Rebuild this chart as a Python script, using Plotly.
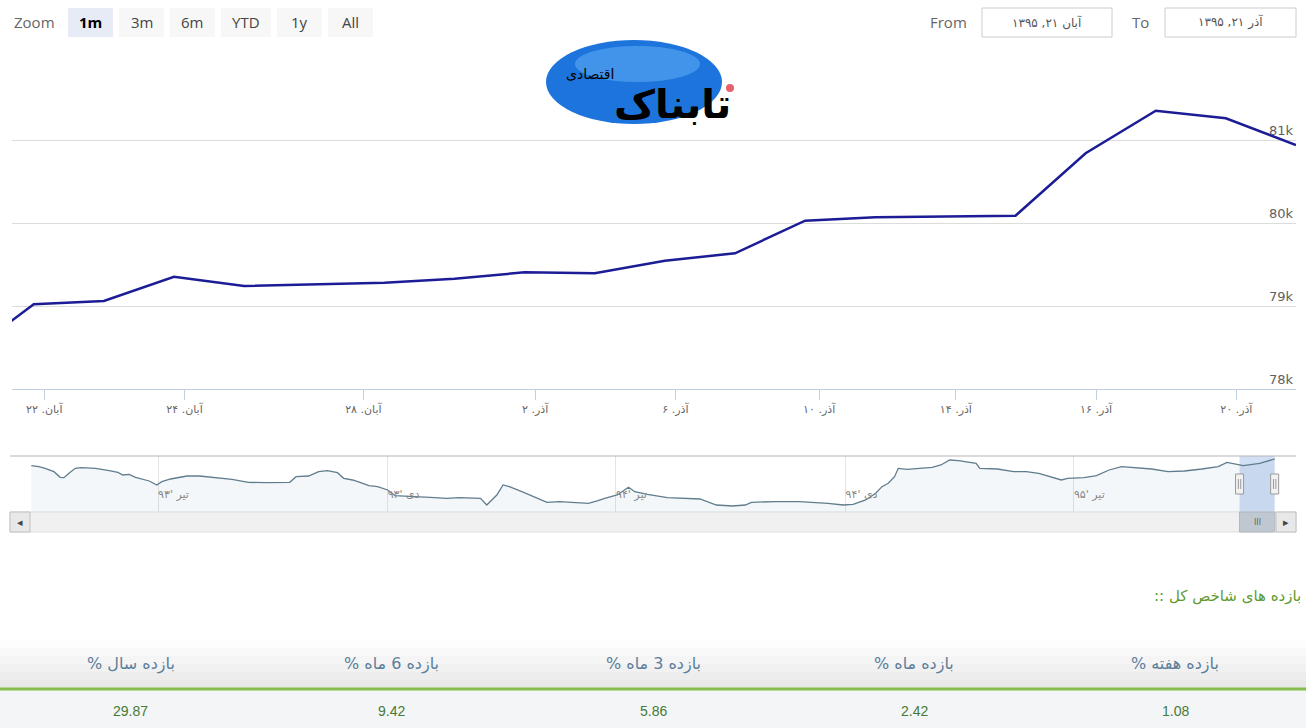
import plotly.graph_objects as go

# %% DATA
# trading days shown in the 1m window (Aban 19 .. Azar 21, 1395), ordinal axis
days = ["آبان ۱۹", "آبان ۲۲", "آبان ۲۳", "آبان ۲۴", "آبان ۲۵", "آبان ۲۶", "آبان ۲۹",
        "آذر ۱", "آذر ۲", "آذر ۳", "آذر ۶", "آذر ۷", "آذر ۱۰", "آذر ۱۳", "آذر ۱۴",
        "آذر ۱۵", "آذر ۱۶", "آذر ۱۷", "آذر ۲۰", "آذر ۲۱"]
index_vals = [78390, 79020, 79060, 79353, 79241, 79261, 79281, 79329, 79406, 79394,
              79546, 79635, 80028, 80069, 80076, 80088, 80840, 81353, 81261, 80940]

# x tick labels of the main chart (ordinal positions, day 0 = Aban 22)
tick_pos = [0.15, 2.15, 4.7, 7.15, 9.15, 11.2, 13.15, 15.15, 17.15]
tick_text = ["آبان. ۲۲", "آبان. ۲۴", "آبان. ۲۸", "آذر. ۲", "آذر. ۶",
             "آذر. ۱۰", "آذر. ۱۴", "آذر. ۱۶", "آذر. ۲۰"]
y_ticks = [78000, 79000, 80000, 81000, 82000]
y_text = ["78k", "79k", "80k", "81k", ""]

# navigator (full history)
nav_dates = ["2014-03-13", "2014-03-19", "2014-03-24", "2014-03-31", "2014-04-05", "2014-04-08",
             "2014-04-12", "2014-04-17", "2014-04-22", "2014-05-03", "2014-05-13", "2014-05-21",
             "2014-05-25", "2014-05-30", "2014-06-04", "2014-06-10", "2014-06-15", "2014-06-21",
             "2014-06-25", "2014-07-02", "2014-07-15", "2014-07-25", "2014-08-07", "2014-08-20",
             "2014-09-02", "2014-09-15", "2014-10-05", "2014-10-10", "2014-10-20", "2014-10-28",
             "2014-11-04", "2014-11-12", "2014-11-17", "2014-11-24", "2014-11-30", "2014-12-07",
             "2014-12-14", "2014-12-22", "2014-12-28", "2015-01-06", "2015-01-12", "2015-01-25",
             "2015-02-07", "2015-02-17", "2015-03-06", "2015-03-11", "2015-03-16", "2015-03-19",
             "2015-03-24", "2015-03-29", "2015-04-08", "2015-04-18", "2015-04-28", "2015-05-08",
             "2015-05-18", "2015-05-31", "2015-06-07", "2015-06-13", "2015-06-23", "2015-07-02",
             "2015-07-07", "2015-07-17", "2015-08-02", "2015-08-15", "2015-08-28", "2015-09-10",
             "2015-09-23", "2015-10-03", "2015-10-08", "2015-10-26", "2015-11-15", "2015-12-08",
             "2015-12-20", "2015-12-28", "2016-01-07", "2016-01-15", "2016-01-20", "2016-01-25",
             "2016-01-30", "2016-02-02", "2016-02-09", "2016-02-19", "2016-02-29", "2016-03-07",
             "2016-03-14", "2016-03-21", "2016-03-28", "2016-04-04", "2016-04-07", "2016-04-21",
             "2016-05-04", "2016-05-14", "2016-05-24", "2016-06-03", "2016-06-11", "2016-06-16",
             "2016-06-29", "2016-07-09", "2016-07-19", "2016-07-29", "2016-08-12", "2016-08-22",
             "2016-09-04", "2016-09-17", "2016-10-01", "2016-10-14", "2016-10-21", "2016-10-28",
             "2016-11-03", "2016-11-16", "2016-11-28"]
nav_vals = [78112, 77688, 76980, 75566, 73163, 73020,
            74860, 76980, 77264, 76980, 76132, 75284,
            74150, 74436, 73163, 72314, 71608, 69910,
            71325, 72456, 73728, 73728, 73163, 72314,
            71042, 70900, 71042, 73446, 73728, 75566,
            75990, 75142, 72738, 72032, 71042, 69628,
            69204, 67790, 65386, 64962, 64962, 64680,
            64255, 64540, 64255, 61426, 64255, 65670,
            69910, 69204, 67080, 64962, 62558, 62840,
            62418, 62134, 63124, 64255, 65670, 68920,
            67080, 65952, 64540, 64255, 63972, 61426,
            61000, 61426, 62558, 62840, 62840, 62134,
            61426, 61710, 63550, 66376, 69204, 70618,
            73446, 76980, 76556, 76980, 77405, 78395,
            80516, 80233, 79810, 79102, 76980, 76697,
            75566, 75566, 74860, 73446, 72032, 72738,
            73020, 73870, 76274, 77688, 77264, 76697,
            75566, 75850, 76697, 77688, 79526, 78678,
            78112, 79102, 80940]
nav_tick_dates = ["2014-06-22", "2014-12-22", "2015-06-22", "2015-12-22", "2016-06-21"]
nav_tick_text = ["تیر '۹۳", "دی '۹۳", "تیر '۹۴", "دی '۹۴", "تیر '۹۵"]
nav_window = ["2016-10-31", "2016-11-28"]

zoom_buttons = ["1m", "3m", "6m", "YTD", "1y", "All"]
date_from = "آبان ۲۱, ۱۳۹۵"
date_to = "آذر ۲۱, ۱۳۹۵"

ret_labels = ["بازده سال %", "بازده 6 ماه %", "بازده 3 ماه %", "بازده ماه %", "بازده هفته %"]
ret_vals = [29.87, 9.42, 5.86, 2.42, 1.08]

# %% FIGURE
W, H = 1306, 728


def px(x):
    return x / W


def py(y):
    return 1 - y / H


FONT = "DejaVu Sans"
RLM = "\u200f"

fig = go.Figure()
fig.add_trace(go.Scatter(x=list(range(-1, len(days) - 1)), y=index_vals, text=days,
                         mode="lines", line=dict(color="#1c1c96", width=2.5),
                         hovertemplate="%{text}<br>%{y}<extra></extra>"))
fig.add_trace(go.Scatter(x=nav_dates, y=nav_vals, mode="lines", xaxis="x2", yaxis="y2",
                         fill="tozeroy", fillcolor="rgba(69,114,167,0.06)",
                         line=dict(color="#607d8e", width=1.3), hoverinfo="skip"))

shapes = []
ann = []


def note(x, y, text, size, color, family=FONT, xref="paper", xanchor="center"):
    ann.append(dict(x=x, y=y, xref=xref, yref="paper", text=text, showarrow=False,
                    xanchor=xanchor, yanchor="middle",
                    font=dict(family=family, size=size, color=color)))


# navigator frame, selected window, handles
shapes.append(dict(type="line", xref="paper", yref="paper", x0=px(10), x1=px(1296),
                   y0=py(456), y1=py(456), line=dict(color="#b5b5b5", width=1)))
shapes.append(dict(type="rect", xref="x2", yref="paper", x0=nav_window[0], x1=nav_window[1],
                   y0=py(512), y1=py(456), fillcolor="rgba(100,150,220,0.3)", line_width=0,
                   layer="below"))
for d in nav_window:
    shapes.append(dict(type="rect", xref="x2", yref="paper", xsizemode="pixel", xanchor=d,
                       x0=-4, x1=4, y0=py(494), y1=py(474), fillcolor="#f2f2f2",
                       line=dict(color="#999999", width=1)))
    for dx in (-1.2, 1.2):
        shapes.append(dict(type="line", xref="x2", yref="paper", xsizemode="pixel", xanchor=d,
                           x0=dx, x1=dx, y0=py(489), y1=py(479),
                           line=dict(color="#999999", width=1)))

# scrollbar
shapes.append(dict(type="rect", xref="paper", yref="paper", x0=px(10), x1=px(1296),
                   y0=py(532), y1=py(512), fillcolor="#f0f0f0",
                   line=dict(color="#e0e0e0", width=1), layer="below"))
shapes.append(dict(type="rect", xref="x2", yref="paper", x0=nav_window[0], x1=nav_window[1],
                   y0=py(532), y1=py(512), fillcolor="#bfc8d1",
                   line=dict(color="#b0b8c0", width=1)))
for bx in (10, 1276):
    shapes.append(dict(type="rect", xref="paper", yref="paper", x0=px(bx), x1=px(bx + 20),
                       y0=py(532), y1=py(512), fillcolor="#e8e8e8",
                       line=dict(color="#c0c0c0", width=1)))
note(px(20), py(522), "◂", 11, "#444")
note(px(1286), py(522), "▸", 11, "#444")
note("2016-11-14", py(522), "III", 8, "#666", xref="x2")

# zoom buttons
note(px(34), py(22), "Zoom", 15, "#666", family="Open Sans")
bx0 = 68
for b in zoom_buttons:
    bw = 50 if b == "YTD" else 45
    sel = b == "1m"
    shapes.append(dict(type="rect", xref="paper", yref="paper", x0=px(bx0), x1=px(bx0 + bw),
                       y0=py(37), y1=py(8), fillcolor="#e6ebf5" if sel else "#f7f7f7", line_width=0))
    note(px(bx0 + bw / 2), py(22), "<b>%s</b>" % b if sel else b, 15,
         "#000" if sel else "#444", family="Open Sans")
    bx0 += bw + 6

# date inputs
for label, lx, x0, x1, val in (("From", 948, 982, 1112, date_from), ("To", 1140, 1165, 1296, date_to)):
    note(px(lx), py(22), label, 15, "#666", family="Open Sans")
    shapes.append(dict(type="rect", xref="paper", yref="paper", x0=px(x0), x1=px(x1),
                       y0=py(37), y1=py(8), line=dict(color="#cccccc", width=1)))
    note(px((x0 + x1) / 2), py(22), val, 12, "#555")

# logo
shapes.append(dict(type="circle", xref="paper", yref="paper", x0=px(546), x1=px(722),
                   y0=py(124), y1=py(40), fillcolor="#1d74dc", line_width=0))
shapes.append(dict(type="circle", xref="paper", yref="paper", x0=px(575), x1=px(700),
                   y0=py(82), y1=py(46), fillcolor="#5aaaf2", line_width=0, opacity=0.6))
shapes.append(dict(type="circle", xref="paper", yref="paper", x0=px(726), x1=px(734),
                   y0=py(92), y1=py(84), fillcolor="#e8606a", line_width=0))
note(px(672), py(104), "<b>تابناک</b>", 40, "#000")
note(px(590), py(74), "اقتصادی", 14, "#000")

# returns heading + table
note(px(1303), py(596), RLM + "بازده های شاخص کل ::" + RLM, 15, "#5e9a2f", xanchor="right")
shades = ["#fdfdfd", "#f9f9f9", "#f5f5f5", "#f1f1f1", "#ededed", "#e9e9e9"]
for k, c in enumerate(shades):
    shapes.append(dict(type="rect", xref="paper", yref="paper", x0=0, x1=1,
                       y0=py(640 + 8 * (k + 1)), y1=py(640 + 8 * k), fillcolor=c, line_width=0,
                       layer="below"))
shapes.append(dict(type="rect", xref="paper", yref="paper", x0=0, x1=1, y0=0, y1=py(690),
                   fillcolor="#f4f5f7", line_width=0, layer="below"))
shapes.append(dict(type="line", xref="paper", yref="paper", x0=0, x1=1, y0=py(689), y1=py(689),
                   line=dict(color="#84bd4c", width=3)))
col_w = W / len(ret_labels)
for i, (lab, v) in enumerate(zip(ret_labels, ret_vals)):
    cx = px(col_w * (i + 0.5))
    note(cx, py(664), RLM + lab + RLM, 16, "#5b7e9b")
    note(cx, py(711), "%.2f" % v, 14, "#467a36", family="Liberation Sans")

fig.update_layout(
    width=W, height=H, margin=dict(l=0, r=0, t=0, b=0),
    paper_bgcolor="white", plot_bgcolor="white", showlegend=False,
    font=dict(family=FONT, color="#666"),
    shapes=shapes, annotations=ann,
    xaxis=dict(domain=[px(12), px(1296)], range=[-0.31, 18], tickvals=tick_pos, ticktext=tick_text,
               ticks="outside", ticklen=10, tickcolor="#c0d0e0", showline=True, linecolor="#c0d0e0",
               showgrid=False, zeroline=False, tickfont=dict(size=11, color="#666"), anchor="y"),
    yaxis=dict(domain=[py(389), py(57)], range=[78000, 82000], side="right", tickvals=y_ticks,
               ticktext=y_text, ticklabelposition="inside", ticklabelshift=-10, gridcolor="#dcdcdc",
               showline=False, zeroline=False, tickfont=dict(size=13, color="#606060"), anchor="x"),
    xaxis2=dict(domain=[px(10), px(1296)], type="date", range=["2014-02-24", "2016-12-15"],
                tickvals=nav_tick_dates, ticktext=nav_tick_text, ticklabelposition="inside right",
                ticklabelstandoff=6, ticks="", showgrid=True, gridcolor="#e4e4e4", showline=False,
                zeroline=False, tickfont=dict(size=11, color="#888"), anchor="y2"),
    yaxis2=dict(domain=[py(512), py(456)], range=[58450, 82210], visible=False, anchor="x2"),
)

fig.write_html("out.html", config={"displayModeBar": False},
               post_script="document.body.style.margin='0';")
